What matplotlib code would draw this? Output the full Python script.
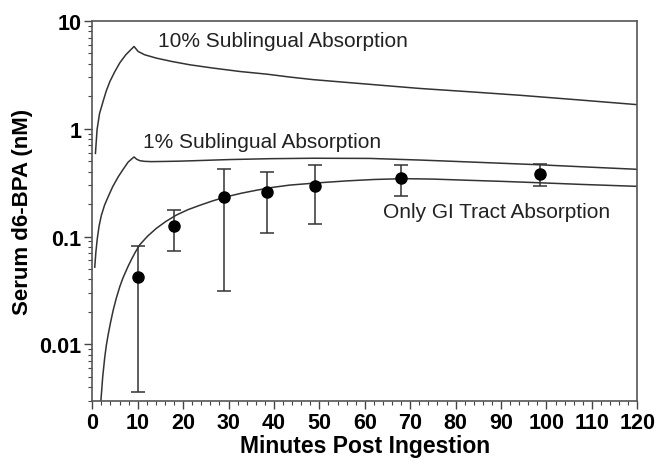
import matplotlib
matplotlib.use("Agg")
import matplotlib.pyplot as plt
from matplotlib.ticker import MultipleLocator, LogLocator, NullFormatter, FixedLocator, FixedFormatter

plt.rcParams['font.family'] = ['Liberation Sans', 'DejaVu Sans']

# Model curves
t10 = [0.7, 1.06, 1.6, 2.4, 3.1, 3.9, 5.0, 6.1, 7.4, 8.4, 9.2, 10.1, 11.5, 14.1, 17.5,
       21.5, 26.5, 32.5, 38.5, 43.5, 48.6, 60, 72.1, 83, 94.2, 107, 120]
c10 = [0.59, 0.98, 1.38, 1.8, 2.25, 2.75, 3.4, 4.1, 4.85, 5.35, 5.78, 5.2, 4.85, 4.51, 4.2,
       3.91, 3.65, 3.39, 3.2, 3.01, 2.85, 2.6, 2.36, 2.2, 2.04, 1.85, 1.67]

t1 = [0.55, 0.8, 1.1, 1.5, 2.0, 2.7, 3.5, 4.5, 5.7, 6.8, 7.9, 8.7, 9.2, 9.8, 10.5, 11.5, 13,
      16, 19.3, 22.6, 30, 39.1, 48.6, 61.1, 72.1, 79.5, 88, 97.8, 108, 120]
c1 = [0.052, 0.072, 0.095, 0.125, 0.157, 0.195, 0.234, 0.29, 0.357, 0.42, 0.49, 0.525, 0.547,
      0.52, 0.505, 0.498, 0.495, 0.497, 0.50, 0.505, 0.517, 0.527, 0.532, 0.53, 0.512, 0.498,
      0.482, 0.464, 0.443, 0.42]

tgi = [1.9, 2.3, 2.75, 3.1, 3.5, 4.0, 4.6, 5.3, 6.1, 6.8, 7.9, 8.6, 9.5, 10.5, 12.2, 14.1,
       16.2, 18.5, 21, 23.7, 26.5, 29.4, 32.8, 36.2, 39.8, 43.5, 49.4, 56, 62, 68.5, 75, 83.1,
       90, 97.8, 108, 120]
cgi = [0.003, 0.005, 0.0076, 0.0098, 0.0123, 0.0158, 0.0207, 0.0269, 0.0347, 0.0417, 0.0531,
       0.061, 0.0719, 0.0843, 0.101, 0.119, 0.138, 0.158, 0.177, 0.195, 0.214, 0.233, 0.252,
       0.269, 0.286, 0.3, 0.314, 0.328, 0.338, 0.344, 0.341, 0.332, 0.325, 0.316, 0.304, 0.292]

# Measured data
obs_t = [10, 18, 29, 38.5, 49, 68, 98.5]
obs_y = [0.042, 0.125, 0.233, 0.26, 0.295, 0.35, 0.383]
obs_lo = [0.0036, 0.073, 0.0316, 0.107, 0.132, 0.238, 0.292]
obs_hi = [0.081, 0.175, 0.426, 0.40, 0.46, 0.46, 0.467]

fig = plt.figure(figsize=(6.59, 4.64), dpi=100)
ax = fig.add_axes([0.14, 0.134, 0.827, 0.819])

lc = '#333333'
ax.plot(t10, c10, color=lc, lw=1.1)
ax.plot(t1, c1, color=lc, lw=1.1)
ax.plot(tgi, cgi, color=lc, lw=1.1)

yerr = [[y - l for y, l in zip(obs_y, obs_lo)], [h - y for y, h in zip(obs_y, obs_hi)]]
ax.errorbar(obs_t, obs_y, yerr=yerr, fmt='o', color='black', ecolor='#333333',
            markersize=8, capsize=5, elinewidth=1.1, capthick=1.1, zorder=3)

ax.set_yscale('log')
ax.set_xlim(0, 120)
ax.set_ylim(0.003, 10)

ax.xaxis.set_major_locator(MultipleLocator(10))
ax.xaxis.set_minor_locator(MultipleLocator(2))
ax.yaxis.set_major_locator(FixedLocator([0.01, 0.1, 1, 10]))
ax.yaxis.set_major_formatter(FixedFormatter(['0.01', '0.1', '1', '10']))
ax.yaxis.set_minor_locator(LogLocator(base=10, subs=range(2, 10)))
ax.yaxis.set_minor_formatter(NullFormatter())

ax.tick_params(axis='both', which='both', direction='out', top=False, right=False,
               color='#444444')
ax.tick_params(axis='both', which='major', length=6, width=1, labelsize=15.5, pad=2)
ax.tick_params(axis='both', which='minor', length=3, width=0.8)
for lab in ax.get_xticklabels() + ax.get_yticklabels():
    lab.set_fontweight('bold')

for s in ax.spines.values():
    s.set_color('#555555')
    s.set_linewidth(1.2)

ax.set_xlabel('Minutes Post Ingestion', fontsize=16.5, fontweight='bold', labelpad=1)
ax.set_ylabel('Serum d6-BPA (nM)', fontsize=16, fontweight='bold', labelpad=4)

tc = '#222222'
ax.text(14.4, 6.5, '10% Sublingual Absorption', fontsize=15, color=tc, va='center', ha='left')
ax.text(11.1, 0.76, '1% Sublingual Absorption', fontsize=15, color=tc, va='center', ha='left')
ax.text(64, 0.17, 'Only GI Tract Absorption', fontsize=15, color=tc, va='center', ha='left')

fig.savefig('out.png', dpi=100)
